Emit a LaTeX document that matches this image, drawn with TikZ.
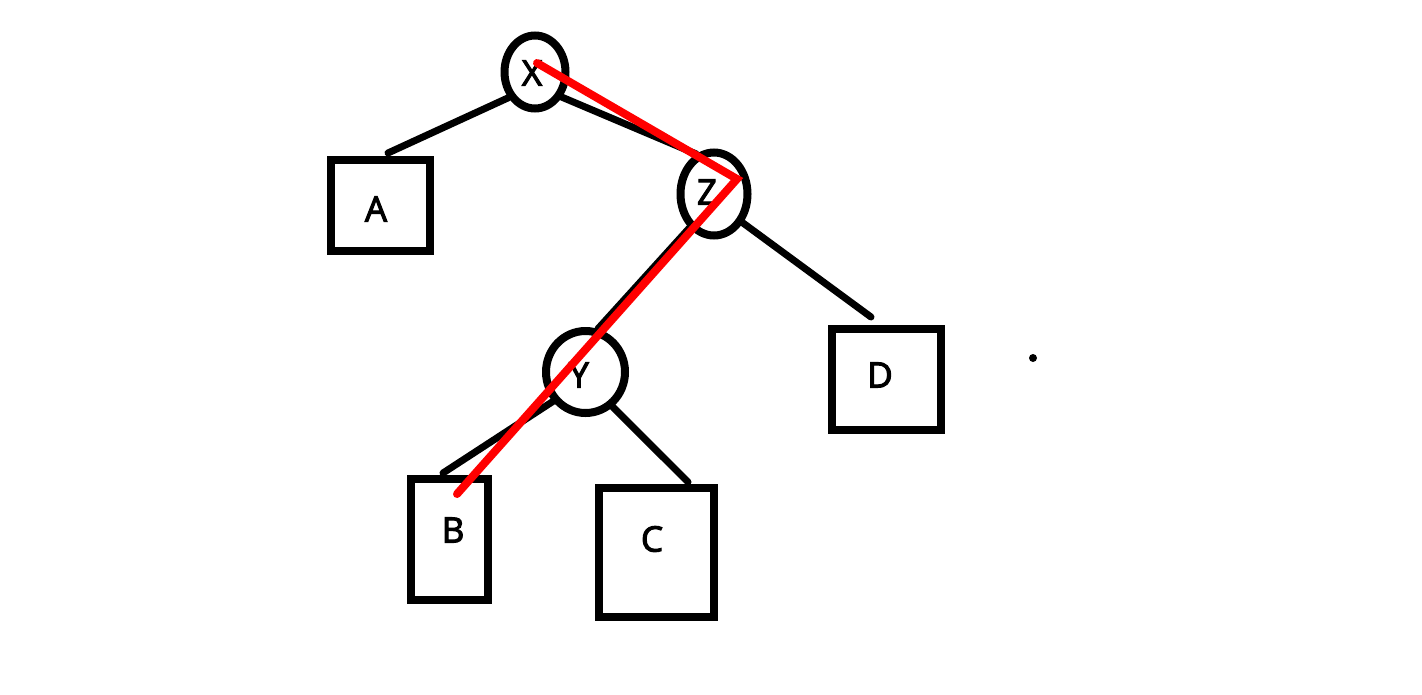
\documentclass[tikz,border=0pt]{standalone}
\usepackage{fontspec}
\newfontfamily\labfont{Open Sans}[FakeBold=3]
\usetikzlibrary{shapes.geometric}
\begin{document}
\begin{tikzpicture}[x=1pt,y=-1pt,
  circ/.style={draw=black,line width=8pt,ellipse,inner sep=0pt},
  box/.style={draw=black,line width=8pt,rectangle,inner sep=0pt},
  lab/.style={font=\labfont\fontsize{35}{40}\selectfont,inner sep=0pt},
  edge/.style={draw=black,line width=7pt,line cap=round},
  redline/.style={draw=red,line width=8pt,line cap=round,line join=miter}]
\useasboundingbox[fill=white] (0,0) rectangle (1422,694);
% circles
\node[circ,minimum width=61pt,minimum height=73pt] (X) at (535,72) {};
\node[circ,minimum width=67pt,minimum height=83pt] (Z) at (714,194) {};
\node[circ,minimum width=79pt,minimum height=82pt] (Y) at (585.5,372) {};
% boxes
\node[box,minimum width=99pt,minimum height=91pt] (A) at (380.5,205.5) {};
\node[box,minimum width=109pt,minimum height=101pt] (D) at (886.5,379.5) {};
\node[box,minimum width=77pt,minimum height=121pt] (B) at (449.5,539.5) {};
\node[box,minimum width=115pt,minimum height=129pt] (C) at (656.5,552.5) {};
% labels
\node[lab] (lX) at (532,73) {X};
\node[lab] (lZ) at (707,192) {Z};
\node[lab] (lY) at (579,375) {Y};
\node[lab] (lA) at (376,209) {A};
\node[lab] (lD) at (880,375) {D};
\node[lab] (lB) at (453,530) {B};
\node[lab] (lC) at (652,539) {C};
% black edges
\draw[edge] (X.224) -- ([shift={(7.5pt,3pt)}]A.north);
\draw[edge] (X.317) -- (Z.114);
\draw[edge] (Z.234) -- (Y.74);
\draw[edge] (Z.315) -- ([shift={(-15.5pt,8pt)}]D.north);
\draw[edge] (Y.222) -- ([shift={(-6.5pt,2pt)}]B.north);
\draw[edge] (Y.308) -- ([shift={(31.5pt,2pt)}]C.north);
% red path
\draw[redline] ([shift={(2pt,9pt)}]X.center) -- ([shift={(23pt,15pt)}]Z.center) -- ([shift={(7.5pt,45.5pt)}]B.center);
% stray dot
\node[circle,fill=black,inner sep=0pt,minimum size=8pt] (dot) at (1033,358) {};
\end{tikzpicture}
\end{document}
